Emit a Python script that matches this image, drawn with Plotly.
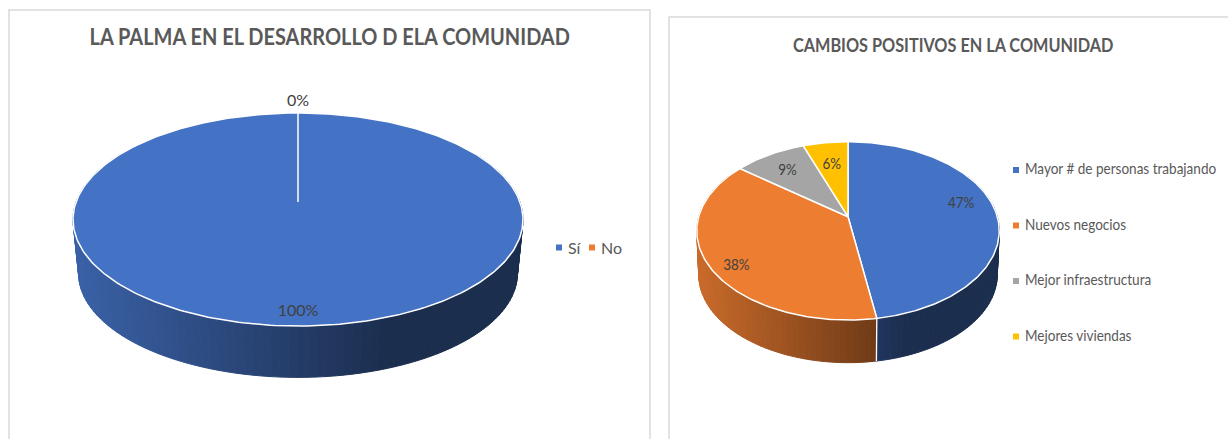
import json
import math
import plotly.graph_objects as go

# ---- data ----
left_title = "LA PALMA EN EL DESARROLLO D ELA COMUNIDAD"
left_categories = ["Sí", "No"]
left_values = [100, 0]
left_labels = ["100%", "0%"]
left_colors = ["#4472C4", "#ED7D31"]

right_title = "CAMBIOS POSITIVOS EN LA COMUNIDAD"
right_categories = ["Mayor # de personas trabajando", "Nuevos negocios", "Mejor infraestructura", "Mejores viviendas"]
right_values = [47.4, 38, 9, 5.6]
right_labels = ["47%", "38%", "9%", "6%"]
right_colors = ["#4472C4", "#ED7D31", "#A5A5A5", "#FFC000"]

GREY = "#595959"
FONT = "Lato, Liberation Sans, Arial, sans-serif"
fig = go.Figure()


def shade(hex_color, m):
    r, g, b = (int(hex_color[i:i + 2], 16) for i in (1, 3, 5))
    return f"rgb({round(r * m)},{round(g * m)},{round(b * m)})"


def add_pie(values, colors, labels, left, right, top, front, apex_x, apex_y, depth, low_scale,
            label_r, label_dy):
    up, down = apex_y - top, front - apex_y
    k = (down - up) / (down + up)
    half_w = (right - left) / 2
    A = half_w * math.sqrt(1 - k * k)
    B = up * (1 + k)

    def project(deg, f=1.0, scale=1.0, off=0.0):
        a = math.radians(deg)
        d = 1 + k * math.cos(a)
        return (apex_x + f * scale * A * math.sin(a) / d,
                apex_y - f * scale * B * math.cos(a) / d + off)

    total = sum(values)
    bounds = [0.0]
    for v in values:
        bounds.append(bounds[-1] + 360.0 * v / total)

    # side wall, front half only, shaded strip by strip
    for i, col in enumerate(colors):
        lo, hi = max(bounds[i], 60.0), min(bounds[i + 1], 300.0)
        a = lo
        while a < hi - 1e-9:
            b = min(a + 2.0, hi)
            p1, p2 = project(a), project(b)
            p3, p4 = project(b, 1, low_scale, depth), project(a, 1, low_scale, depth)
            t = min(1.0, ((p1[0] + p2[0]) / 2 - left) / (0.7 * (right - left)))
            c = shade(col, 0.85 - 0.45 * t)
            fig.add_trace(go.Scatter(x=[p1[0], p2[0], p3[0], p4[0], p1[0]],
                                     y=[p1[1], p2[1], p3[1], p4[1], p1[1]],
                                     mode="lines", fill="toself", fillcolor=c,
                                     line=dict(color=c, width=1),
                                     hoverinfo="skip", showlegend=False))
            a = b
    for edge in bounds[1:-1]:
        if 60.0 < edge < 300.0:
            p1, p2 = project(edge), project(edge, 1, low_scale, depth)
            fig.add_trace(go.Scatter(x=[p1[0], p2[0]], y=[p1[1], p2[1]], mode="lines",
                                     line=dict(color="white", width=1.3),
                                     hoverinfo="skip", showlegend=False))

    # top face
    for i, col in enumerate(colors):
        if values[i] == 0:
            continue
        n = max(2, int((bounds[i + 1] - bounds[i]) / 1.0))
        pts = [project(bounds[i] + (bounds[i + 1] - bounds[i]) * j / n) for j in range(n + 1)]
        xs = [apex_x] + [p[0] for p in pts] + [apex_x]
        ys = [apex_y] + [p[1] for p in pts] + [apex_y]
        fig.add_trace(go.Scatter(x=xs, y=ys, mode="lines", fill="toself", fillcolor=col,
                                 line=dict(color="white", width=1.5),
                                 hoverinfo="skip", showlegend=False))

    # data labels
    lx, ly = [], []
    for i in range(len(values)):
        p = project((bounds[i] + bounds[i + 1]) / 2, label_r[i])
        lx.append(p[0])
        ly.append(p[1] + label_dy[i])
    fig.add_trace(go.Scatter(x=lx, y=ly, mode="text", text=labels, textposition="middle center",
                             textfont=dict(family=FONT, size=16, color="#404040"),
                             hoverinfo="skip", showlegend=False))


add_pie(left_values, left_colors, left_labels, 73, 523, 113, 326, 298, 202, 54.5, 0.975,
        [0.87, 1.146], [2, 2])
add_pie(right_values, right_colors, right_labels, 697, 999.5, 141.7, 320, 848, 216.7, 44, 0.987,
        [0.77, 0.8, 0.77, 0.72], [-7, 10, 2, 2])

# legends
fig.add_trace(go.Scatter(x=[559, 592], y=[247.5, 247.5], mode="markers",
                         marker=dict(symbol="square", size=6, color=left_colors),
                         hoverinfo="skip", showlegend=False))
fig.add_trace(go.Scatter(x=[1016] * 4, y=[170 + 55.5 * i for i in range(4)], mode="markers",
                         marker=dict(symbol="square", size=6, color=right_colors),
                         hoverinfo="skip", showlegend=False))

ann = [
    dict(x=330, y=36, text=f"<b>{left_title}</b>", font=dict(family=FONT, size=22.5, color=GREY), xanchor="center"),
    dict(x=953, y=44, text=f"<b>{right_title}</b>", font=dict(family=FONT, size=19, color=GREY), xanchor="center"),
]
for x, cat in zip([566, 599], left_categories):
    ann.append(dict(x=x, y=247, text=cat, font=dict(family=FONT, size=16, color=GREY), xanchor="left"))
for i, cat in enumerate(right_categories):
    ann.append(dict(x=1023, y=168.5 + 55.5 * i, text=cat, font=dict(family=FONT, size=14.4, color=GREY), xanchor="left"))
for a in ann:
    a.update(xref="x", yref="y", showarrow=False, yanchor="middle")

border = dict(color="#D9D9D9", width=1.5)
shapes = []
for x0, x1, y0 in [(9, 650, 10), (669, 1240, 17)]:
    shapes.append(dict(type="rect", xref="x", yref="y", x0=x0, x1=x1, y0=y0, y1=460,
                       line=border, fillcolor="rgba(0,0,0,0)", layer="below"))

fig.update_layout(
    width=1228, height=439, margin=dict(l=0, r=0, t=0, b=0),
    paper_bgcolor="white", plot_bgcolor="white", showlegend=False,
    xaxis=dict(range=[0, 1228], visible=False, fixedrange=True),
    yaxis=dict(range=[439, 0], visible=False, fixedrange=True),
    annotations=ann, shapes=shapes,
)

# The reference's lettering is horizontally condensed; squeeze the same real text.
squeeze = {left_title: [0.887, False], right_title: [0.856, False]}
for cat in right_categories:
    squeeze[cat] = [0.94, True]
for lab in right_labels:
    squeeze[lab] = [0.84, False]
post = """
document.body.style.margin='0';document.body.style.overflow='hidden';
var SQ = %s;
document.querySelectorAll('svg text').forEach(function (el) {
  var s = SQ[el.textContent];
  if (!s) return;
  var before = el.getBBox();
  el.setAttribute('textLength', el.getComputedTextLength() * s[0]);
  el.setAttribute('lengthAdjust', 'spacingAndGlyphs');
  if (s[1]) {
    var after = el.getBBox();
    el.setAttribute('x', parseFloat(el.getAttribute('x')) + before.x - after.x);
  }
});
""" % json.dumps(squeeze, ensure_ascii=False)
fig.write_html("out.html", config={"displayModeBar": False}, post_script=post)
